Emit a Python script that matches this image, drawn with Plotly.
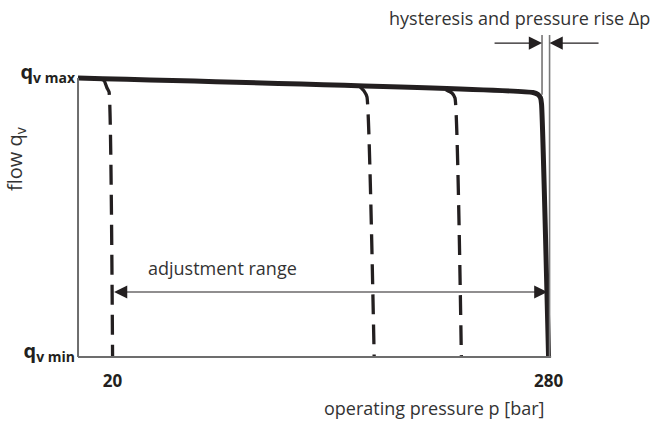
import plotly.graph_objects as go

# Pressure-compensator characteristic: flow vs. operating pressure
# Main (solid) curve: max flow until the cut-off corner, then steep drop at 280 bar
main_p = [-0.6, 270.7, 273.7, 275.2, 275.8, 280.0]
main_q = [1.000, 0.948, 0.941, 0.929, 0.907, 0.0]

# Dashed curves for lower compensator settings (branch off the main curve)
set1_p = [12.5, 15.0, 16.7, 17.9, 20.0]
set1_q = [0.998, 0.990, 0.964, 0.950, 0.0]
set2_p = [167.6, 170.0, 171.7, 176.0]
set2_q = [0.968, 0.953, 0.932, 0.0]
set3_p = [218.8, 222.4, 224.2, 228.0]
set3_q = [0.958, 0.946, 0.928, 0.0]

tick_p = [20, 280]
tick_p_text = ["<b>20</b>", "<b>280</b>"]
tick_q = [0.0, 1.0]
tick_q_text = ["<b>q<sub>v min</sub></b>", "<b>q<sub>v max</sub></b>"]

# Adjustment range and hysteresis markers
adj_start, adj_end, adj_level = 20.0, 279.3, 0.233
hyst_left, hyst_right = 276.1, 280.6
hyst_top, hyst_level = 1.154, 1.125
hyst_tail_left, hyst_tail_right = 246.9, 310.7

INK = "#231f20"
AXIS = "#6d6d6d"
TEXT = "#333333"
FONT = "Open Sans"

fig = go.Figure()

for p, q in [(set1_p, set1_q), (set2_p, set2_q), (set3_p, set3_q)]:
    fig.add_trace(go.Scatter(
        x=p, y=q, mode="lines",
        line=dict(color=INK, width=3.3, dash="20px,10px", shape="spline", smoothing=0.4),
        hoverinfo="skip", showlegend=False,
    ))

fig.add_trace(go.Scatter(
    x=main_p, y=main_q, mode="lines",
    line=dict(color=INK, width=5, shape="spline", smoothing=0.5),
    hoverinfo="skip", showlegend=False,
))

shapes = [
    # axes
    dict(type="line", xref="x", yref="y", x0=-0.6, x1=281.5, y0=0, y1=0,
         line=dict(color=AXIS, width=2)),
    dict(type="line", xref="x", yref="y", x0=-0.6, x1=-0.6, y0=0, y1=1.0,
         line=dict(color=AXIS, width=2)),
    # hysteresis boundaries
    dict(type="line", xref="x", yref="y", x0=hyst_left, x1=hyst_left, y0=0.94, y1=hyst_top,
         line=dict(color=INK, width=1)),
    dict(type="line", xref="x", yref="y", x0=hyst_right, x1=hyst_right, y0=0, y1=hyst_top,
         line=dict(color="#7a7a7a", width=1.6)),
]

annotations = [
    # hysteresis arrows
    dict(x=hyst_left, y=hyst_level, ax=hyst_tail_left, ay=hyst_level, xref="x", yref="y",
         axref="x", ayref="y", text="", showarrow=True, arrowhead=2, arrowsize=2.2,
         arrowwidth=1.2, arrowcolor=INK),
    dict(x=hyst_right, y=hyst_level, ax=hyst_tail_right, ay=hyst_level, xref="x", yref="y",
         axref="x", ayref="y", text="", showarrow=True, arrowhead=2, arrowsize=2.2,
         arrowwidth=1.2, arrowcolor=INK),
    # adjustment range double arrow
    dict(x=adj_end, y=adj_level, ax=adj_start, ay=adj_level, xref="x", yref="y",
         axref="x", ayref="y", text="", showarrow=True, arrowside="end+start",
         arrowhead=2, startarrowhead=2, arrowsize=2.2, startarrowsize=2.2,
         arrowwidth=1.2, arrowcolor=INK),
    dict(x=85.8, y=0.319, xref="x", yref="y", text="adjustment range", showarrow=False,
         font=dict(family=FONT, size=18, color=TEXT)),
    dict(x=1.0586, y=1.036, xref="paper", yref="paper", xanchor="right", yanchor="middle",
         text="hysteresis and pressure rise Δp",
         showarrow=False, font=dict(family=FONT, size=18, color=TEXT)),
    dict(x=0.659, y=-0.135, xref="paper", yref="paper", xanchor="center", yanchor="middle",
         text="operating pressure p [bar]",
         showarrow=False, font=dict(family=FONT, size=18, color=TEXT)),
    dict(x=-0.106, y=0.613, xref="paper", yref="paper", xanchor="center", yanchor="middle",
         text="flow q<sub>v</sub>", textangle=-90,
         showarrow=False, font=dict(family=FONT, size=20, color=TEXT)),
]

fig.update_layout(
    width=655, height=423,
    margin=dict(l=74, r=35, t=30, b=60),
    paper_bgcolor="white", plot_bgcolor="white",
    shapes=shapes, annotations=annotations,
    xaxis=dict(range=[-3, 322.6], showgrid=False, zeroline=False, showline=False,
               tickvals=tick_p, ticktext=tick_p_text, ticks="", ticklabelstandoff=6,
               tickfont=dict(family=FONT, size=17, color=INK), fixedrange=True),
    yaxis=dict(range=[-0.0215, 1.172], showgrid=False, zeroline=False, showline=False,
               tickvals=tick_q, ticktext=tick_q_text, ticks="", ticklabelstandoff=-2,
               ticklabelshift=-6,
               tickfont=dict(family=FONT, size=20, color=INK), fixedrange=True),
)

fig.write_html("out.html")
